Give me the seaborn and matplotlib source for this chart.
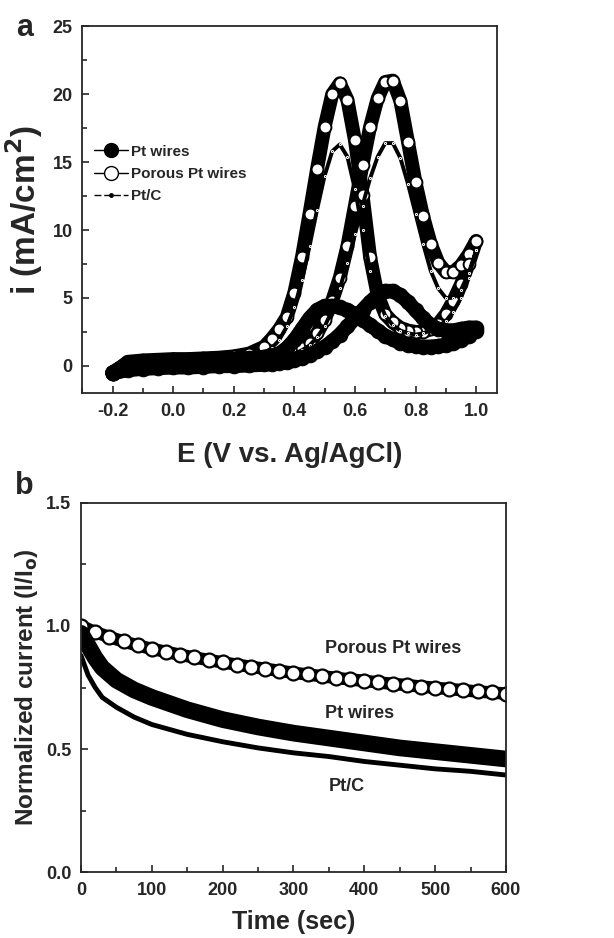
import matplotlib
matplotlib.use("Agg")
import pandas as pd
import matplotlib.pyplot as plt
import seaborn as sns
from matplotlib.lines import Line2D
from matplotlib.ticker import MultipleLocator

# ---- (a) cyclic voltammograms ----
E = [-0.2, -0.15, -0.1, -0.05, 0.0, 0.05, 0.1, 0.15, 0.2, 0.25, 0.3,
     0.325, 0.35, 0.375, 0.4, 0.425, 0.45, 0.475, 0.5, 0.525, 0.55,
     0.575, 0.6, 0.625, 0.65, 0.675, 0.7, 0.725, 0.75, 0.775, 0.8,
     0.825, 0.85, 0.875, 0.9, 0.925, 0.95, 0.975, 1.0]

# forward (anodic) and backward scans, both listed in ascending E
porous_fwd = [-0.6, -0.25, -0.15, -0.1, -0.05, 0.0, 0.0, 0.05, 0.1, 0.2, 0.35,
              0.45, 0.6, 0.8, 1.0, 1.3, 1.7, 2.4, 3.4, 4.8, 6.5,
              8.8, 11.8, 14.8, 17.6, 19.7, 20.9, 21.0, 19.5, 16.5, 13.5,
              11.0, 9.0, 7.6, 6.9, 6.9, 7.4, 8.2, 9.2]
porous_bwd = [-0.6, 0.3, 0.4, 0.45, 0.5, 0.5, 0.55, 0.6, 0.7, 0.9, 1.4,
              2.0, 2.7, 3.6, 5.4, 8.0, 11.2, 14.5, 17.6, 20.0, 20.8,
              19.6, 16.6, 12.6, 8.0, 5.2, 3.8, 3.2, 2.8, 2.6, 2.5,
              2.5, 2.7, 3.1, 3.8, 4.8, 6.0, 7.5, 9.2]
ptc_fwd = [-0.4, -0.2, -0.1, -0.05, 0.0, 0.0, 0.05, 0.1, 0.15, 0.25, 0.35,
           0.45, 0.55, 0.7, 0.9, 1.15, 1.5, 2.1, 2.9, 4.1, 5.7,
           7.6, 9.7, 11.8, 13.8, 15.4, 16.4, 16.4, 15.3, 13.4, 11.2,
           9.0, 7.0, 5.7, 5.0, 5.0, 5.6, 6.8, 8.5]
ptc_bwd = [-0.4, 0.3, 0.35, 0.4, 0.45, 0.45, 0.5, 0.5, 0.55, 0.7, 0.95,
           1.3, 1.9, 2.9, 4.3, 6.3, 8.8, 11.5, 14.0, 15.8, 16.3,
           15.4, 13.0, 10.0, 7.0, 5.0, 3.7, 3.0, 2.6, 2.4, 2.3,
           2.4, 2.6, 2.9, 3.3, 4.0, 5.0, 6.5, 8.5]
ptw_fwd = [-0.5, -0.3, -0.2, -0.15, -0.1, -0.1, -0.05, 0.0, 0.0, 0.05, 0.1,
           0.15, 0.2, 0.3, 0.4, 0.6, 0.8, 1.1, 1.4, 1.8, 2.3,
           2.9, 3.5, 4.1, 4.7, 5.2, 5.5, 5.5, 5.2, 4.7, 4.1,
           3.5, 3.0, 2.7, 2.6, 2.6, 2.7, 2.8, 2.8]
ptw_bwd = [-0.5, 0.2, 0.3, 0.35, 0.4, 0.4, 0.45, 0.45, 0.5, 0.55, 0.65,
           0.75, 0.9, 1.3, 1.9, 2.7, 3.5, 4.1, 4.4, 4.4, 4.3,
           4.1, 3.8, 3.4, 3.0, 2.6, 2.2, 1.95, 1.7, 1.55, 1.45,
           1.4, 1.4, 1.45, 1.55, 1.7, 1.9, 2.2, 2.6]

# ---- (b) chronoamperometry ----
t_porous = [0, 20, 40, 60, 80, 100, 120, 140, 160, 180, 200, 220, 240, 260,
            280, 300, 320, 340, 360, 380, 400, 420, 440, 460, 480, 500, 520,
            540, 560, 580, 600]
porous_I = [1.0, 0.975, 0.955, 0.937, 0.921, 0.907, 0.895, 0.883, 0.872,
            0.862, 0.852, 0.843, 0.834, 0.826, 0.818, 0.81, 0.803, 0.796,
            0.789, 0.783, 0.777, 0.771, 0.765, 0.76, 0.754, 0.749, 0.744,
            0.739, 0.734, 0.73, 0.725]
t_other = [0, 10, 20, 30, 50, 75, 100, 150, 200, 250, 300, 350, 400, 450,
           500, 550, 600]
ptw_I = [0.97, 0.92, 0.87, 0.83, 0.78, 0.74, 0.71, 0.66, 0.62, 0.59, 0.565,
         0.545, 0.525, 0.505, 0.49, 0.475, 0.46]
ptc_I = [0.88, 0.80, 0.75, 0.71, 0.67, 0.63, 0.60, 0.56, 0.53, 0.505, 0.485,
         0.47, 0.45, 0.435, 0.42, 0.41, 0.395]

labels = ["Pt wires", "Porous Pt wires", "Pt/C"]


def loop(fwd, bwd):
    # forward scan up, backward scan down -> closed CV loop
    return pd.DataFrame({"E": E + E[::-1], "i": fwd + bwd[::-1]})


sns.set_theme(style="ticks")
plt.rcParams["font.family"] = ["Liberation Sans", "DejaVu Sans"]
plt.rcParams["font.weight"] = "bold"
plt.rcParams["axes.linewidth"] = 1.3
plt.rcParams["mathtext.default"] = "bf"

fig = plt.figure(figsize=(6.14, 9.38), dpi=100)
ax1 = fig.add_axes([0.134, 0.581, 0.676, 0.391])
ax2 = fig.add_axes([0.132, 0.070, 0.692, 0.394])

# --- panel a ---
d = loop(porous_fwd, porous_bwd)
sns.lineplot(data=d, x="E", y="i", sort=False, estimator=None, ax=ax1,
             color="black", lw=10, marker="o", ms=8.5, mfc="white",
             mec="black", mew=1.4)
d = loop(ptc_fwd, ptc_bwd)
sns.lineplot(data=d, x="E", y="i", sort=False, estimator=None, ax=ax1,
             color="black", lw=2.8, marker=".", ms=3)
d = loop(ptw_fwd, ptw_bwd)
sns.lineplot(data=d, x="E", y="i", sort=False, estimator=None, ax=ax1,
             color="black", lw=10.5, marker="o", ms=10.5, mfc="black",
             mec="black")

ax1.set_xlim(-0.3, 1.07)
ax1.set_ylim(-2, 25)
ax1.xaxis.set_minor_locator(MultipleLocator(0.1))
ax1.yaxis.set_major_locator(MultipleLocator(5))
ax1.yaxis.set_minor_locator(MultipleLocator(2.5))
ax1.set_xticks([-0.2, 0.0, 0.2, 0.4, 0.6, 0.8, 1.0])
ax1.set_xticklabels(["-0.2", "0.0", "0.2", "0.4", "0.6", "0.8", "1.0"])
ax1.set_xlabel("E (V vs. Ag/AgCl)", fontsize=20, fontweight="bold", labelpad=16)
ax1.set_ylabel("i (mA/cm$^2$)", fontsize=24, fontweight="bold", labelpad=5)

handles = [
    Line2D([], [], color="black", lw=1, marker="o", ms=10, mfc="black"),
    Line2D([], [], color="black", lw=1, marker="o", ms=10, mfc="white"),
    Line2D([], [], color="black", lw=1, ls=(0, (5, 2)), marker=".", ms=5),
]
ax1.legend(handles, labels, loc="upper left", bbox_to_anchor=(-0.005, 0.715),
           frameon=False, handlelength=2.2, handletextpad=0.2, labelspacing=0.55,
           prop={"size": 11, "weight": "bold"})

# --- panel b ---
sns.lineplot(x=t_porous, y=porous_I, sort=False, estimator=None, ax=ax2,
             color="black", lw=9, marker="o", ms=10, mfc="white",
             mec="black", mew=1.6)
sns.lineplot(x=t_other, y=ptw_I, sort=False, estimator=None, ax=ax2,
             color="black", lw=12)
sns.lineplot(x=t_other, y=ptc_I, sort=False, estimator=None, ax=ax2,
             color="black", lw=3.5)

ax2.set_xlim(0, 600)
ax2.set_ylim(0, 1.5)
ax2.xaxis.set_major_locator(MultipleLocator(100))
ax2.xaxis.set_minor_locator(MultipleLocator(50))
ax2.yaxis.set_major_locator(MultipleLocator(0.5))
ax2.yaxis.set_minor_locator(MultipleLocator(0.25))
ax2.set_xlabel("Time (sec)", fontsize=18, fontweight="bold", labelpad=8)
ax2.set_ylabel("Normalized current (I/I$_o$)", fontsize=17.5, fontweight="bold",
               labelpad=4)

ax2.text(345, 0.91, "Porous Pt wires", fontsize=13, fontweight="bold",
         va="center", ha="left")
ax2.text(345, 0.645, "Pt wires", fontsize=13, fontweight="bold",
         va="center", ha="left")
ax2.text(350, 0.35, "Pt/C", fontsize=13, fontweight="bold",
         va="center", ha="left")

for ax in (ax1, ax2):
    ax.tick_params(which="both", direction="in", top=False, right=False,
                   labelsize=13, width=1.2, pad=7)
    ax.tick_params(which="major", length=5)
    ax.tick_params(which="minor", length=3.5)
    for lab in ax.get_xticklabels() + ax.get_yticklabels():
        lab.set_fontweight("bold")
    for s in ax.spines.values():
        s.set_visible(True)

fig.text(0.04, 0.970, "a", fontsize=22, ha="center", va="center")
fig.text(0.04, 0.482, "b", fontsize=22, ha="center", va="center")

fig.savefig("out.png", dpi=100)
